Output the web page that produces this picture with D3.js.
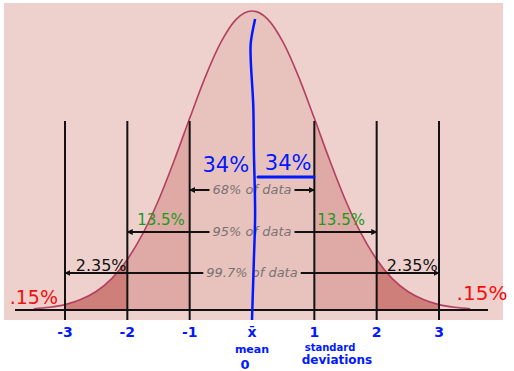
<!DOCTYPE html>
<html>
<head>
<meta charset="utf-8">
<script src="https://cdn.jsdelivr.net/npm/d3@7"></script>
<style>
  html, body { margin: 0; padding: 0; background: #fff; }
</style>
</head>
<body>
<div id="chart"></div>
<script>
// curve height (fraction of peak) read at each quarter standard deviation
const curveX = [-3.5, -3.25, -3, -2.75, -2.5, -2.25, -2, -1.75, -1.5, -1.25, -1, -0.75, -0.5, -0.25,
  0, 0.25, 0.5, 0.75, 1, 1.25, 1.5, 1.75, 2, 2.25, 2.5, 2.75, 3, 3.25, 3.5];
const curveH = [0.004, 0.009, 0.018, 0.035, 0.062, 0.105, 0.169, 0.256, 0.367, 0.499, 0.641, 0.779, 0.895, 0.973,
  1, 0.973, 0.895, 0.779, 0.641, 0.499, 0.367, 0.256, 0.169, 0.105, 0.062, 0.035, 0.018, 0.009, 0.004];

const sdTicks = [-3, -2, -1, 0, 1, 2, 3];
const tickLabels = ["-3", "-2", "-1", "x\u0304", "1", "2", "3"];

// shaded bands between standard deviations
const bands = [
  { from: -1, to: 1, fill: "#e8c3be" },
  { from: -2, to: -1, fill: "#dfa9a5" },
  { from: 1, to: 2, fill: "#dfa9a5" },
  { from: -3, to: -2, fill: "#cf7f7a" },
  { from: 2, to: 3, fill: "#cf7f7a" }
];

// "x% of data" rows: arrows reach out to +/- sd
const spans = [
  { sd: 1, label: "68% of data", y: 190 },
  { sd: 2, label: "95% of data", y: 232 },
  { sd: 3, label: "99.7% of data", y: 273 }
];

// hand-written percentages
const notes = [
  { text: "34%", sd: -0.42, y: 172, color: "#0019ff", size: 21 },
  { text: "34%", sd: 0.58, y: 170, color: "#0019ff", size: 21 },
  { text: "13.5%", sd: -1.46, y: 225, color: "#1a9a1a", size: 15 },
  { text: "13.5%", sd: 1.43, y: 225, color: "#1a9a1a", size: 15 },
  { text: "2.35%", sd: -2.42, y: 271, color: "#111", size: 16 },
  { text: "2.35%", sd: 2.57, y: 271, color: "#111", size: 16 },
  { text: ".15%", sd: -3.5, y: 304, color: "#ee1111", size: 19 },
  { text: ".15%", sd: 3.69, y: 300, color: "#ee1111", size: 20 }
];

// hand-drawn mean line (sd, y in px)
const meanStroke = [[0.05, 19], [-0.02, 43], [-0.02, 60], [0.02, 105], [0.03, 150], [0.05, 215], [0.03, 260], [0.01, 300], [0, 320]];

const width = 514, height = 371;
const baseY = 310;

const svg = d3.select("#chart").append("svg")
  .attr("width", width)
  .attr("height", height)
  .style("font-family", "'DejaVu Sans', sans-serif");

const x = d3.scaleLinear().domain([-3, 3]).range([65, 439]);
const y = d3.scaleLinear().domain([0, 1]).range([baseY, 11]);

const pts = curveX.map((d, i) => ({ x: d, h: curveH[i] }));

svg.append("rect")
  .attr("x", 4).attr("y", 3)
  .attr("width", 499).attr("height", 317)
  .attr("fill", "#eed0cc");

const defs = svg.append("defs");

bands.forEach((b, i) => {
  defs.append("clipPath").attr("id", "band" + i)
    .append("rect")
    .attr("x", x(b.from)).attr("y", 0)
    .attr("width", x(b.to) - x(b.from)).attr("height", baseY);
});

defs.append("marker")
  .attr("id", "arrow")
  .attr("viewBox", "0 -5 10 10")
  .attr("refX", 9).attr("refY", 0)
  .attr("markerWidth", 6).attr("markerHeight", 6)
  .attr("markerUnits", "userSpaceOnUse")
  .attr("orient", "auto")
  .append("path")
  .attr("d", "M0,-5L10,0L0,5Z")
  .attr("fill", "#111");

const area = d3.area()
  .x(d => x(d.x))
  .y0(baseY)
  .y1(d => y(d.h))
  .curve(d3.curveMonotoneX);

const line = d3.line()
  .x(d => x(d.x))
  .y(d => y(d.h))
  .curve(d3.curveMonotoneX);

bands.forEach((b, i) => {
  svg.append("path")
    .datum(pts)
    .attr("d", area)
    .attr("fill", b.fill)
    .attr("clip-path", `url(#band${i})`);
});

svg.append("path")
  .datum(pts)
  .attr("d", line)
  .attr("fill", "none")
  .attr("stroke", "#b3405e")
  .attr("stroke-width", 1.6);

// vertical sd lines
svg.append("g")
  .selectAll("line")
  .data(sdTicks.filter(d => d !== 0))
  .join("line")
  .attr("x1", d => x(d)).attr("x2", d => x(d))
  .attr("y1", 121).attr("y2", 320)
  .attr("stroke", "#111")
  .attr("stroke-width", 2);

// baseline
svg.append("line")
  .attr("x1", 15).attr("x2", 488)
  .attr("y1", baseY).attr("y2", baseY)
  .attr("stroke", "#111")
  .attr("stroke-width", 2);

// span labels with arrows
const spanG = svg.append("g");
spans.forEach(s => {
  const t = spanG.append("text")
    .attr("x", x(0)).attr("y", s.y + 4)
    .attr("text-anchor", "middle")
    .attr("font-size", 13)
    .attr("font-style", "italic")
    .attr("fill", "#7a7272")
    .text(s.label);
  const w = t.node().getComputedTextLength();
  spanG.append("line")
    .attr("x1", x(0) - w / 2 - 3).attr("x2", x(-s.sd))
    .attr("y1", s.y).attr("y2", s.y)
    .attr("stroke", "#111").attr("stroke-width", 2)
    .attr("marker-end", "url(#arrow)");
  spanG.append("line")
    .attr("x1", x(0) + w / 2 + 3).attr("x2", x(s.sd))
    .attr("y1", s.y).attr("y2", s.y)
    .attr("stroke", "#111").attr("stroke-width", 2)
    .attr("marker-end", "url(#arrow)");
});

// mean line
svg.append("path")
  .datum(meanStroke)
  .attr("d", d3.line().x(d => x(d[0])).y(d => d[1]).curve(d3.curveCatmullRom))
  .attr("fill", "none")
  .attr("stroke", "#0019ff")
  .attr("stroke-width", 2.5);

// percentage notes
svg.append("g")
  .selectAll("text")
  .data(notes)
  .join("text")
  .attr("x", d => x(d.sd))
  .attr("y", d => d.y)
  .attr("text-anchor", "middle")
  .attr("font-size", d => d.size)
  .attr("fill", d => d.color)
  .text(d => d.text);

// underline under right 34%
svg.append("line")
  .attr("x1", 258).attr("x2", 314)
  .attr("y1", 177).attr("y2", 177)
  .attr("stroke", "#0019ff").attr("stroke-width", 3)
  .attr("stroke-linecap", "round");

// axis labels
svg.append("g")
  .selectAll("text")
  .data(sdTicks)
  .join("text")
  .attr("x", d => x(d))
  .attr("y", 337)
  .attr("text-anchor", "middle")
  .attr("font-size", 14)
  .attr("font-weight", "bold")
  .attr("fill", "#0019ff")
  .text((d, i) => tickLabels[i]);

const extra = [
  { text: "mean", x: 252, y: 353, size: 11 },
  { text: "0", x: 245, y: 369, size: 13 },
  { text: "standard", x: 330, y: 351, size: 10 },
  { text: "deviations", x: 337, y: 364, size: 12 }
];
svg.append("g")
  .selectAll("text")
  .data(extra)
  .join("text")
  .attr("x", d => d.x).attr("y", d => d.y)
  .attr("text-anchor", "middle")
  .attr("font-size", d => d.size)
  .attr("font-weight", "bold")
  .attr("fill", "#0019ff")
  .text(d => d.text);
</script>
</body>
</html>
